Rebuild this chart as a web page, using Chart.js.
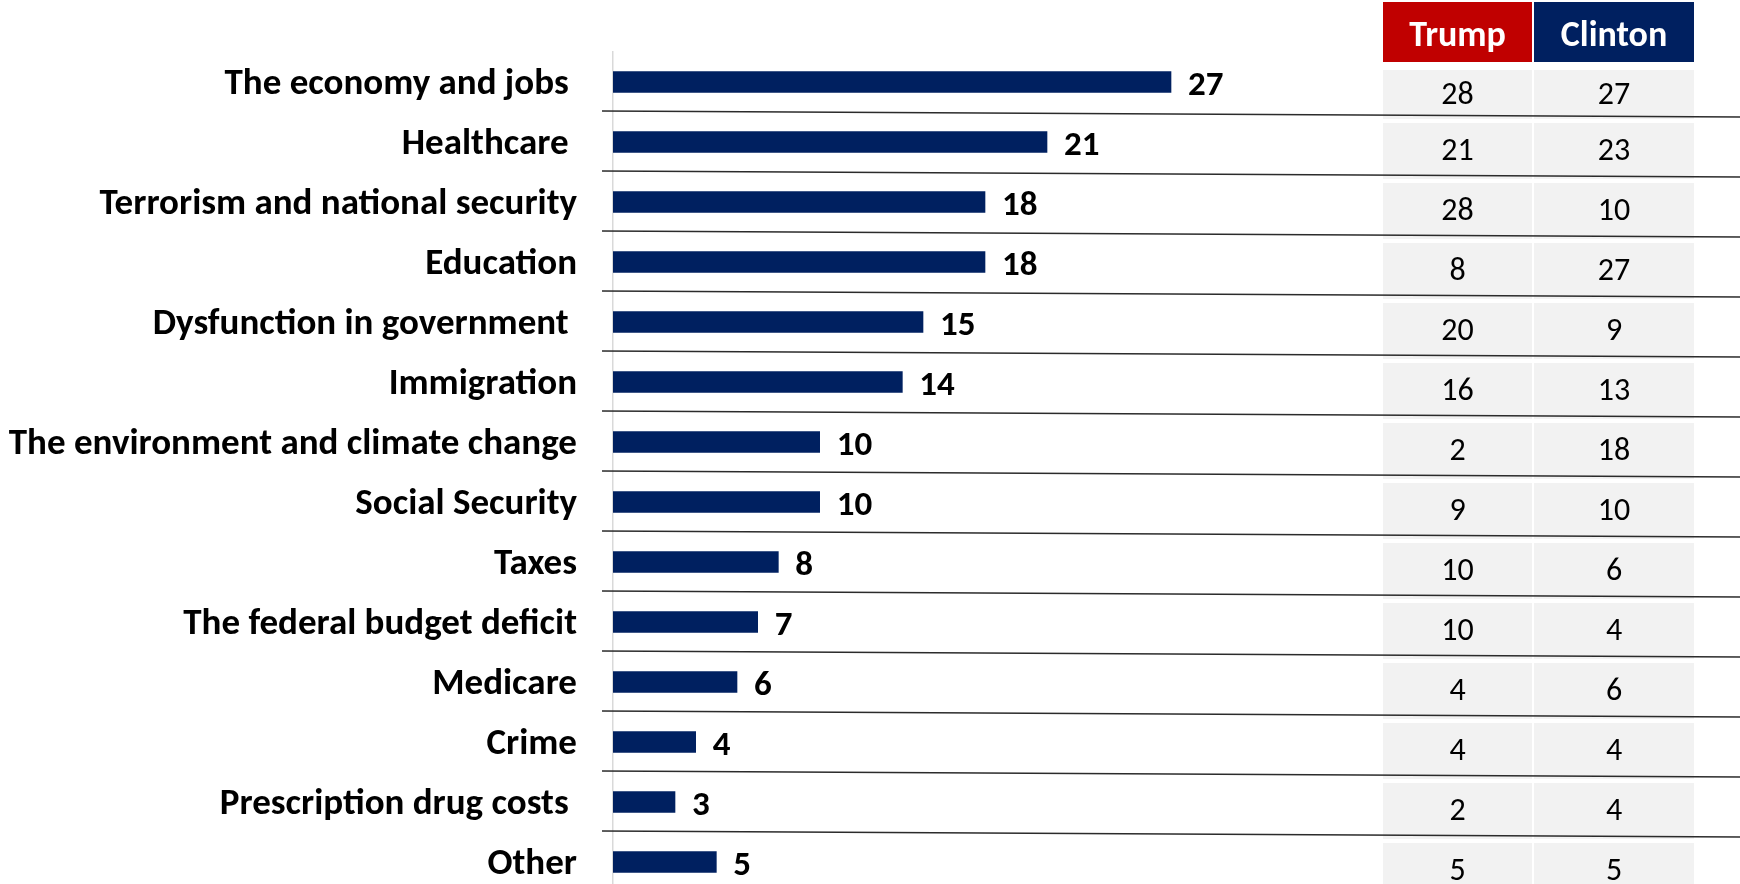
<!DOCTYPE html>
<html><head><meta charset="utf-8">
<script src="https://cdn.jsdelivr.net/npm/chart.js@4.4.1/dist/chart.umd.min.js"></script>
<style>
html,body{margin:0;padding:0;background:#fff;overflow:hidden;width:1740px;height:884px}
canvas{display:block}
</style>
</head>
<body>
<canvas id="chart" width="1740" height="892"></canvas>
<script>
// ---- data ----
const categories = [
  'The economy and jobs ',
  'Healthcare ',
  'Terrorism and national security',
  'Education',
  'Dysfunction in government ',
  'Immigration',
  'The environment and climate change',
  'Social Security',
  'Taxes',
  'The federal budget deficit',
  'Medicare',
  'Crime',
  'Prescription drug costs ',
  'Other'
];
const totalValues   = [27, 21, 18, 18, 15, 14, 10, 10, 8, 7, 6, 4, 3, 5];
const trumpValues   = [28, 21, 28, 8, 20, 16, 2, 9, 10, 10, 4, 4, 2, 5];
const clintonValues = [27, 23, 10, 27, 9, 13, 18, 10, 6, 4, 6, 4, 4, 5];
const tableHeaders  = ['Trump', 'Clinton'];

// ---- styling / layout ----
const FONT = 'Carlito, Calibri, Lato, sans-serif';
const NAVY = '#002060';
const RED = '#C00000';
const CELL_GREY = '#F2F2F2';

const valueLabels = {
  id: 'valueLabels',
  afterDatasetsDraw(chart) {
    const ctx = chart.ctx;
    const meta = chart.getDatasetMeta(0);
    ctx.save();
    ctx.font = 'bold 35px ' + FONT;
    ctx.fillStyle = '#000';
    ctx.textAlign = 'left';
    ctx.textBaseline = 'middle';
    meta.data.forEach((bar, i) => {
      ctx.fillText(String(chart.data.datasets[0].data[i]), bar.x + 17, bar.y + 4);
    });
    ctx.restore();
  }
};

const sideTable = {
  id: 'sideTable',
  afterDraw(chart) {
    const ctx = chart.ctx;
    const y = chart.scales.y;
    const step = y.getPixelForValue(1) - y.getPixelForValue(0);
    const cols = [
      {x0: 1383, x1: 1532, color: RED, values: trumpValues},
      {x0: 1534, x1: 1694, color: NAVY, values: clintonValues}
    ];
    const headTop = 2, headBot = 62;
    ctx.save();
    // header
    cols.forEach((c, k) => {
      ctx.fillStyle = c.color;
      ctx.fillRect(c.x0, headTop, c.x1 - c.x0, headBot - headTop);
      ctx.fillStyle = '#fff';
      ctx.font = 'bold 36px ' + FONT;
      ctx.textAlign = 'center';
      ctx.textBaseline = 'middle';
      ctx.fillText(tableHeaders[k], (c.x0 + c.x1) / 2, (headTop + headBot) / 2 + 5);
    });
    // body cells
    const shift = 9;
    categories.forEach((_, i) => {
      const cy = y.getPixelForValue(i) + shift;
      let top = cy - step / 2 + 2;
      const bot = cy + step / 2 - 2;
      if (i === 0) top = Math.max(top, headBot + 8);
      cols.forEach(c => {
        ctx.fillStyle = CELL_GREY;
        ctx.fillRect(c.x0, top, c.x1 - c.x0, bot - top);
        ctx.fillStyle = '#000';
        ctx.font = '32px ' + FONT;
        ctx.textAlign = 'center';
        ctx.textBaseline = 'middle';
        ctx.fillText(String(c.values[i]), (c.x0 + c.x1) / 2, (top + bot) / 2 + 1);
      });
    });
    // separator lines between rows (slightly sloping, as in the original)
    ctx.strokeStyle = '#2b2b2b';
    ctx.lineWidth = 1.6;
    for (let i = 0; i < categories.length - 1; i++) {
      const by = (y.getPixelForValue(i) + y.getPixelForValue(i + 1)) / 2;
      ctx.beginPath();
      ctx.moveTo(602, by - 1);
      ctx.lineTo(1740, by + 5);
      ctx.stroke();
    }
    ctx.restore();
  }
};

function build() {
  new Chart(document.getElementById('chart'), {
    type: 'bar',
    data: {
      labels: categories,
      datasets: [{
        data: totalValues,
        backgroundColor: NAVY,
        borderWidth: 0,
        barThickness: 21
      }]
    },
    options: {
      indexAxis: 'y',
      responsive: false,
      animation: false,
      devicePixelRatio: 1,
      layout: {padding: {left: 0, top: 52, right: 507, bottom: 0}},
      plugins: {legend: {display: false}, tooltip: {enabled: false}},
      scales: {
        x: {
          display: false,
          min: 0,
          max: 30
        },
        y: {
          type: 'category',
          offset: true,
          grid: {display: false, drawTicks: false},
          border: {display: true, color: '#D9D9D9', width: 1.5},
          ticks: {
            color: '#000',
            font: {family: FONT, size: 37, weight: 'bold'},
            padding: 36,
            labelOffset: 3,
            autoSkip: false
          },
          afterFit(scale) {
            scale.width = 613;
            scale.paddingTop = 0;
            scale.paddingBottom = 0;
          }
        }
      }
    },
    plugins: [valueLabels, sideTable]
  });
}
if (document.fonts && document.fonts.load) {
  Promise.all([
    document.fonts.load('bold 37px Carlito'),
    document.fonts.load('32px Carlito')
  ]).then(build, build);
} else build();
</script>
</body></html>
